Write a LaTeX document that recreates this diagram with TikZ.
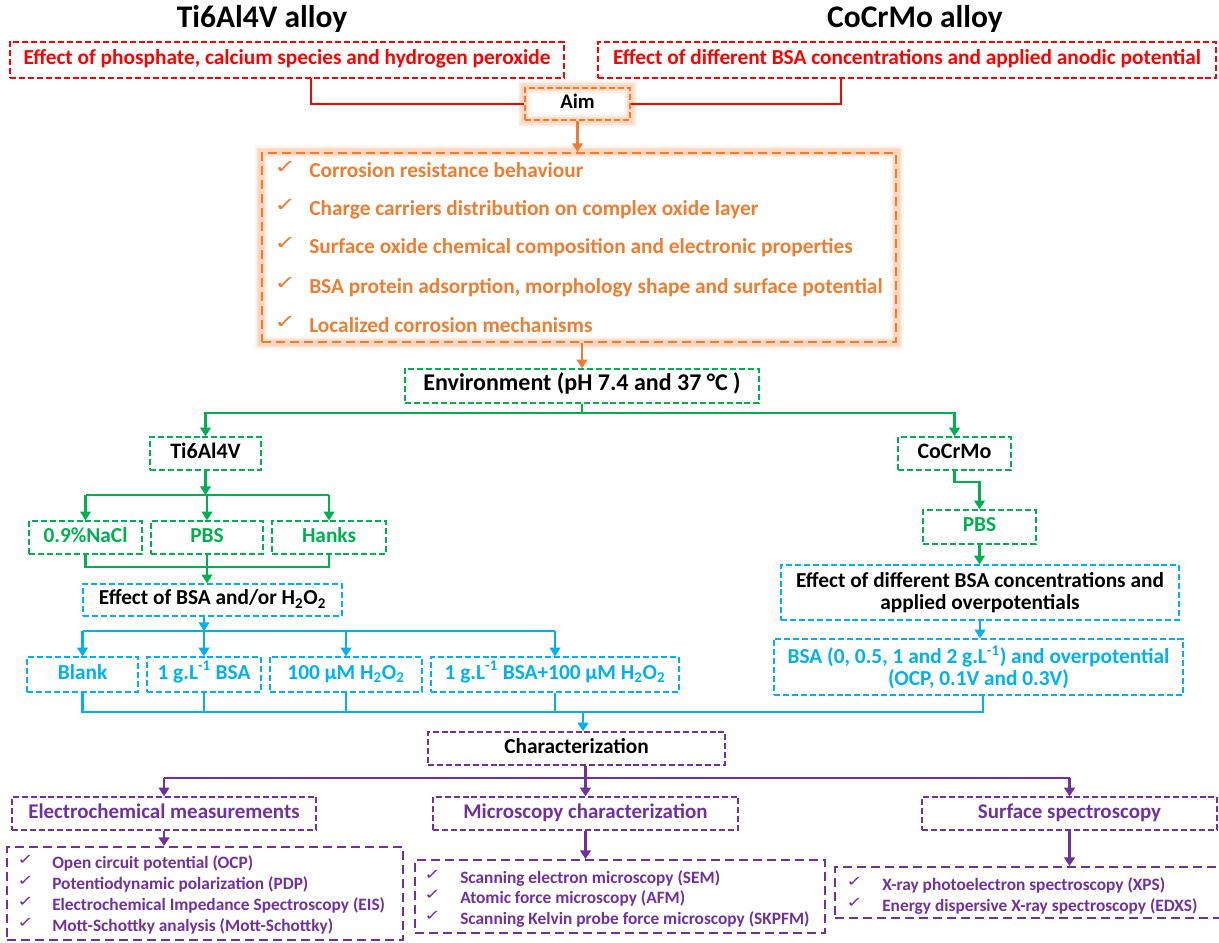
\documentclass[tikz,border=0pt]{standalone}
\usepackage{fontspec}
\usepackage{graphicx}
\setmainfont{Carlito}
\newfontfamily\symf{DejaVu Sans}
\usetikzlibrary{arrows.meta,backgrounds}
\definecolor{cred}{RGB}{255,0,0}
\definecolor{corange}{RGB}{237,125,49}
\definecolor{cgreen}{RGB}{0,176,80}
\definecolor{cblue}{RGB}{0,176,240}
\definecolor{cpurple}{RGB}{112,48,160}
\newcommand{\chkmark}{\scalebox{1.35}[1]{✓}}
\tikzset{
  x=0.75pt, y=-0.75pt,
  wh/.style 2 args={minimum width=#1*0.75pt, minimum height=#2*0.75pt},
  box/.style={draw, dash pattern=on 4.5pt off 2.2pt, line width=1.1pt, inner sep=0pt, align=center,
    font=\bfseries\fontsize{16}{16.3}\selectfont},
  one/.style={text height=0.7em, text depth=0pt},
  bigbox/.style={draw, dash pattern=on 7pt off 3.5pt, line width=1.4pt, inner sep=0pt},
  titlet/.style={inner sep=0pt, anchor=base, font=\bfseries\fontsize{23.6}{28}\selectfont},
  item/.style={inner sep=0pt, anchor=base west},
  chk/.style={inner sep=0pt, anchor=base west, font=\symf\fontsize{14.5}{16}\selectfont},
  pchk/.style={inner sep=0pt, anchor=base west, font=\symf\fontsize{11}{13}\selectfont},
  pitem/.style={inner sep=0pt, anchor=base west, font=\bfseries\fontsize{13}{15}\selectfont},
  phead/.style={font=\bfseries\fontsize{15.7}{18}\selectfont},
  gtext/.style={font=\bfseries\fontsize{16}{18}\selectfont},
  tip/.style={-{Triangle[length=6.5pt,width=8pt]}},
  con/.style={line width=2.2pt},
}
\begin{document}
\begin{tikzpicture}
\useasboundingbox (0,0) rectangle (1219,942);

% ---- titles
\node[titlet] (tTi) at (262,28) {Ti6Al4V alloy};
\node[titlet] (tCo) at (915,28) {CoCrMo alloy};

% ---- red boxes
\node[box, one, cred, wh={554}{36}] (rL) at (287,60)
  {Effect of phosphate, calcium species and hydrogen peroxide};
\node[box, one, cred, wh={618}{36}] (rR) at (907,60)
  {Effect of different BSA concentrations and applied anodic potential};

% ---- aim
\node[box, one, draw=corange, wh={105}{32}, font=\bfseries\fontsize{15.5}{17}\selectfont] (aim) at (577.5,104) {Aim};

% ---- orange list
\node[bigbox, draw=corange, wh={634}{189}] (list) at (579,247.5) {};
\foreach \yy/\tx [count=\i] in {177/Corrosion resistance behaviour,
  215/Charge carriers distribution on complex oxide layer,
  253/Surface oxide chemical composition and electronic properties,
  293/{BSA protein adsorption, morphology shape and surface potential},
  332/Localized corrosion mechanisms}{
  \node[chk, corange] (oc\i) at (274,\yy-4) {\chkmark};
  \node[item, corange, font=\bfseries\fontsize{16}{18}\selectfont] (ot\i) at (309,\yy) {\tx};
}

% ---- environment
\node[box, one, draw=cgreen, wh={354}{34}, font=\bfseries\fontsize{18}{20}\selectfont] (env) at (582,386)
  {Environment (pH 7.4 and 37 °C )};

% ---- Ti branch
\node[box, one, draw=cgreen, wh={111}{33}, font=\bfseries\fontsize{16.5}{18}\selectfont] (ti) at (205.5,453.5) {Ti6Al4V};
\node[box, one, cgreen, wh={113}{33}, gtext] (nacl) at (85.5,537.5) {0.9\%NaCl};
\node[box, one, cgreen, wh={112}{33}, gtext] (pbsL) at (207,537.5) {PBS};
\node[box, one, cgreen, wh={114}{33}, gtext] (hanks) at (329,537.5) {Hanks};
\node[box, one, draw=cblue, wh={259}{32}] (effL) at (212.5,600) {Effect of BSA and/or H\textsubscript{2}O\textsubscript{2}};
\node[box, one, cblue, wh={111}{35}] (blank) at (82.5,674.5) {Blank};
\node[box, one, cblue, wh={114}{35}] (bsa1) at (204,674.5) {1 g.L\textsuperscript{-1} BSA};
\node[box, one, cblue, wh={152}{35}] (h2o2) at (346,674.5) {100 µM H\textsubscript{2}O\textsubscript{2}};
\node[box, one, cblue, wh={248}{35}] (combo) at (555,674.5) {1 g.L\textsuperscript{-1} BSA+100 µM H\textsubscript{2}O\textsubscript{2}};

% ---- CoCrMo branch
\node[box, one, draw=cgreen, wh={113}{33}, font=\bfseries\fontsize{16.5}{18}\selectfont] (co) at (954.5,453.5) {CoCrMo};
\node[box, one, cgreen, wh={113}{34}, gtext] (pbsR) at (979.5,527) {PBS};
\node[box, draw=cblue, wh={398}{55}] (effR) at (980,592.5) {Effect of different BSA concentrations and\\applied overpotentials};
\node[box, cblue, wh={409}{56}] (bsaR) at (978.5,667) {BSA (0, 0.5, 1 and 2 g.L\textsuperscript{-1}) and overpotential\\(OCP, 0.1V and 0.3V)};

% ---- characterization
\node[box, one, draw=cpurple, wh={297}{33}] (char) at (576.5,748.5) {Characterization};
\node[box, one, cpurple, wh={304}{33}, phead] (elec) at (164,813.5) {Electrochemical measurements};
\node[box, one, cpurple, wh={305}{33}, phead] (micro) at (585.5,813.5) {Microscopy characterization};
\node[box, one, cpurple, wh={295}{33}, phead] (surf) at (1069.5,813.5) {Surface spectroscopy};

\node[bigbox, draw=cpurple, wh={396}{93}] (elecL) at (205,893.5) {};
\node[bigbox, draw=cpurple, wh={410}{73}] (microL) at (620,896.5) {};
\node[bigbox, draw=cpurple, wh={389}{51}] (surfL) at (1029.5,892.5) {};

\foreach \yy/\tx [count=\i] in {868/Open circuit potential (OCP),
  889/Potentiodynamic polarization (PDP),
  910/Electrochemical Impedance Spectroscopy (EIS),
  931/Mott-Schottky analysis (Mott-Schottky)}{
  \node[pchk, cpurple] (ec\i) at (17,\yy-4) {\chkmark};
  \node[pitem, cpurple] (et\i) at (52,\yy) {\tx};
}
\foreach \yy/\tx [count=\i] in {883/Scanning electron microscopy (SEM),
  903/Atomic force microscopy (AFM),
  924/Scanning Kelvin probe force microscopy (SKPFM)}{
  \node[pchk, cpurple] (mc\i) at (424,\yy-4) {\chkmark};
  \node[pitem, cpurple] (mt\i) at (460,\yy) {\tx};
}
\foreach \yy/\tx [count=\i] in {890/X-ray photoelectron spectroscopy (XPS),
  911/Energy dispersive X-ray spectroscopy (EDXS)}{
  \node[pchk, cpurple] (sc\i) at (846,\yy-4) {\chkmark};
  \node[pitem, cpurple] (st\i) at (882,\yy) {\tx};
}

% ---- glow
\begin{scope}[on background layer]
  \foreach \w/\o in {10/0.06,8/0.08,6/0.1,4/0.12}{
    \draw[corange, line width=\w pt, opacity=\o] (aim.north west) rectangle (aim.south east);
    \draw[corange, line width=\w pt, opacity=\o] (list.north west) rectangle (list.south east);
  }
\end{scope}

% ---- red connectors
\coordinate (rLc) at (311,78);
\coordinate (rRc) at (841,78);
\draw[con, cred] (rLc) |- (aim.west);
\draw[con, cred] (rRc) |- (aim.east);

% ---- orange arrows
\draw[con, corange, line width=1.8pt, tip] (aim.south) -- (aim.south |- list.north);
\draw[con, corange, line width=1.8pt, tip] (env.north |- list.south) -- (env.north);

% ---- green connectors
\coordinate (gbar) at (0,413);
\draw[con, cgreen, tip] (env.south) -- (env.south |- gbar) -| (ti.north);
\draw[con, cgreen, tip] (env.south) -- (env.south |- gbar) -| (co.north);
\coordinate (gbar2) at (0,495);
\draw[con, cgreen, tip] (ti.south) -- (ti.south |- gbar2);
\draw[con, cgreen] (nacl.north |- gbar2) -- (hanks.north |- gbar2);
\draw[con, cgreen, tip] (nacl.north |- gbar2) -- (nacl.north);
\draw[con, cgreen, tip] (pbsL.north |- gbar2) -- (pbsL.north);
\draw[con, cgreen, tip] (hanks.north |- gbar2) -- (hanks.north);
\coordinate (gbar3) at (0,567);
\draw[con, cgreen] (nacl.south) -- (nacl.south |- gbar3) -- (hanks.south |- gbar3) -- (hanks.south);
\draw[con, cgreen, tip] (pbsL.south) -- (pbsL.south |- effL.north);
\coordinate (gbar4) at (0,482);
\draw[con, cgreen, tip] (co.south) -- (co.south |- gbar4) -| (pbsR.north);
\draw[con, cgreen, tip] (pbsR.south) -- (pbsR.south |- effR.north);

% ---- blue connectors
\coordinate (bbar) at (0,631);
\draw[con, cblue, tip] (bsa1.north |- effL.south) -- (bsa1.north |- bbar);
\draw[con, cblue] (blank.north |- bbar) -- (combo.north |- bbar);
\draw[con, cblue, tip] (blank.north |- bbar) -- (blank.north);
\draw[con, cblue, tip] (bsa1.north |- bbar) -- (bsa1.north);
\draw[con, cblue, tip] (h2o2.north |- bbar) -- (h2o2.north);
\draw[con, cblue, tip] (combo.north |- bbar) -- (combo.north);
\draw[con, cblue, tip] (effR.south) -- (effR.south |- bsaR.north);
\coordinate (bbar2) at (0,712);
\coordinate (bsaRc) at (983,695);
\draw[con, cblue] (blank.south) -- (blank.south |- bbar2) -- (bsaRc |- bbar2) -- (bsaRc);
\draw[con, cblue] (bsa1.south) -- (bsa1.south |- bbar2);
\draw[con, cblue] (h2o2.south) -- (h2o2.south |- bbar2);
\draw[con, cblue] (combo.south) -- (combo.south |- bbar2);
\coordinate (cdown) at (583,712);
\draw[con, cblue, tip] (cdown) -- (cdown |- char.north);

% ---- purple connectors
\coordinate (pbar) at (0,778);
\draw[con, cpurple] (elec.north |- pbar) -- (surf.north |- pbar);
\draw[con, cpurple, tip] (micro.north |- char.south) -- (micro.north);
\draw[con, cpurple, tip] (elec.north |- pbar) -- (elec.north);
\draw[con, cpurple, tip] (surf.north |- pbar) -- (surf.north);
\draw[con, cpurple, tip] (elec.south) -- (elec.south |- elecL.north);
\draw[con, cpurple, tip] (micro.south) -- (micro.south |- microL.north);
\draw[con, cpurple, tip] (surf.south) -- (surf.south |- surfL.north);
\end{tikzpicture}
\end{document}
